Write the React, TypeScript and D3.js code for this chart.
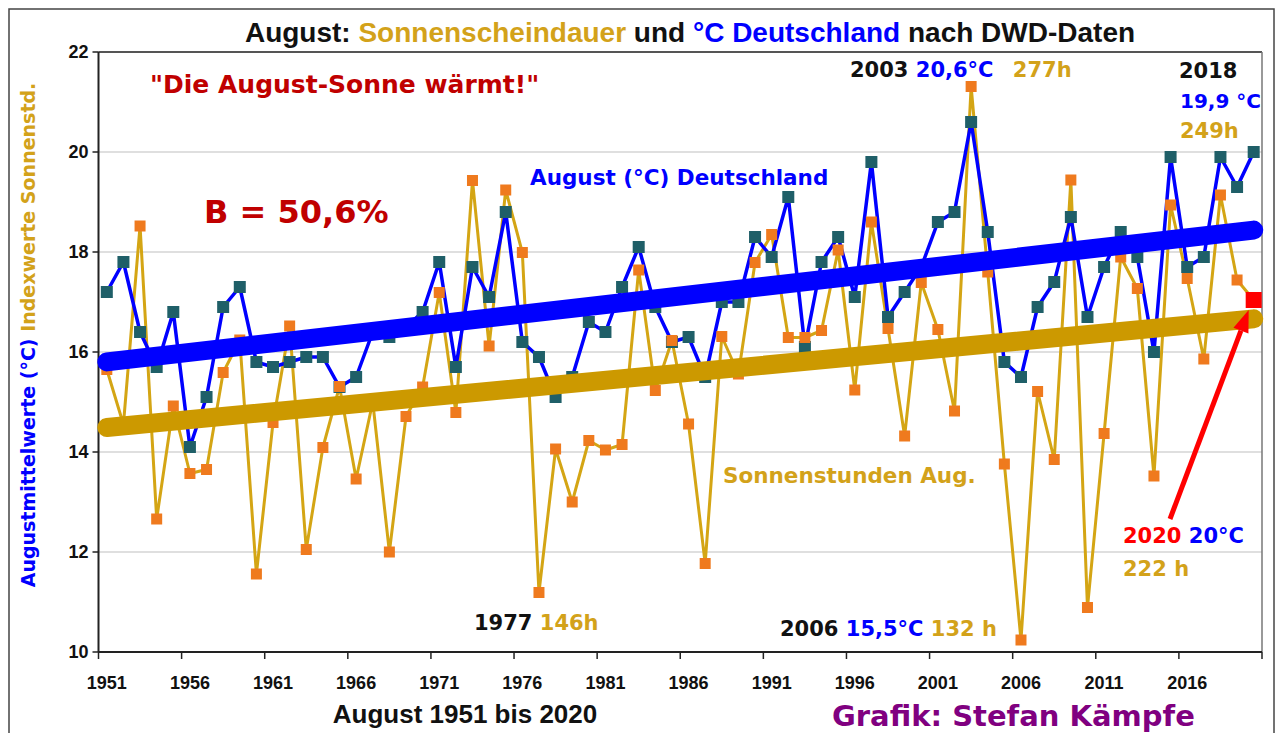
import React from 'react';
import * as d3 from 'd3';

// Kategorien
const firstYear = 1951;
const lastYear = 2020;
const years = d3.range(firstYear, lastYear + 1);

// August-Mittel (°C) Deutschland
const tempAugust = [
  17.2, 17.8, 16.4, 15.7, 16.8, 14.1, 15.1, 16.9, 17.3, 15.8,
  15.7, 15.8, 15.9, 15.9, 15.3, 15.5, 16.4, 16.3, 16.5, 16.8,
  17.8, 15.7, 17.7, 17.1, 18.8, 16.2, 15.9, 15.1, 15.5, 16.6,
  16.4, 17.3, 18.1, 16.9, 16.2, 16.3, 15.5, 17.0, 17.0, 18.3,
  17.9, 19.1, 16.1, 17.8, 18.3, 17.1, 19.8, 16.7, 17.2, 17.7,
  18.6, 18.8, 20.6, 18.4, 15.8, 15.5, 16.9, 17.4, 18.7, 16.7,
  17.7, 18.4, 17.9, 16.0, 19.9, 17.7, 17.9, 19.9, 19.3, 20.0,
];

// Indexwerte Sonnenstunden (auf die °C-Achse skaliert)
const sunIndex = [
  15.65, 14.55, 18.52, 12.66, 14.92, 13.57, 13.65, 15.59, 16.24, 11.56,
  14.59, 16.52, 12.05, 14.09, 15.31, 13.46, 15.0, 12.0, 14.71, 15.3,
  17.19, 14.79, 19.43, 16.12, 19.24, 17.99, 11.19, 14.06, 13.0, 14.23,
  14.04, 14.15, 17.64, 15.23, 16.23, 14.56, 11.77, 16.31, 15.56, 17.79,
  18.35, 16.29, 16.29, 16.43, 18.04, 15.24, 18.6, 16.47, 14.32, 17.39,
  16.45, 14.82, 21.31, 17.6, 13.76, 10.24, 15.21, 13.85, 19.44, 10.89,
  14.37, 17.9, 17.27, 13.52, 18.94, 17.47, 15.86, 19.14, 17.44, 17.04,
];

const yTicks = [10, 12, 14, 16, 18, 20, 22];
const labelYears = [1951, 1956, 1961, 1966, 1971, 1976, 1981, 1986, 1991, 1996, 2001, 2006, 2011, 2016];

const W = 1283;
const H = 733;
const plot = { left: 98.5, right: 1262, top: 52, bottom: 652 };

const font = "'Liberation Sans', Arial, Helvetica, sans-serif";
const fontNarrow = "'Liberation Sans Narrow', 'Arial Narrow', 'Liberation Sans', Arial, sans-serif";
const fontWide = "'DejaVu Sans', Verdana, sans-serif";
const BLUE = '#0000FF';
const GOLD = '#D4A514';
const GOLD_TREND = '#CC9900';
const GOLD_TEXT = '#D3A21A';
const TEAL = '#1F5F68';
const ORANGE = '#EF7A1E';
const DARKRED = '#C00000';

// einfache lineare Regression
function linReg(xs: number[], ys: number[]) {
  const mx = d3.mean(xs)!;
  const my = d3.mean(ys)!;
  let num = 0, den = 0;
  xs.forEach((xv, i) => { num += (xv - mx) * (ys[i] - my); den += (xv - mx) ** 2; });
  const b = num / den;
  return (xv: number) => my + b * (xv - mx);
}

export default function App() {
  const x = d3.scaleBand<number>().domain(years).range([plot.left, plot.right]).padding(0);
  const xc = (yr: number) => (x(yr) as number) + x.bandwidth() / 2;
  const y = d3.scaleLinear().domain([10, 22]).range([plot.bottom, plot.top]);

  const line = d3.line<number>().x((_, i) => xc(years[i])).y(d => y(d));
  const tempTrend = linReg(years, tempAugust);
  const sunTrend = linReg(years, sunIndex);

  const sunPts = sunIndex.slice(0, -1);
  const last = years.length - 1;

  const tb = { fontFamily: font, fontWeight: 700 } as const;
  const tn = { fontFamily: fontNarrow, fontWeight: 700 } as const;
  const tw = { fontFamily: fontWide, fontWeight: 700 } as const;

  // Pfeil auf 2020
  const ax0 = 1170, ay0 = 519;
  const ax1 = xc(lastYear) - 5, ay1 = y(sunIndex[last]) + 10;
  const ang = Math.atan2(ay1 - ay0, ax1 - ax0);
  const headLen = 22, headW = 8;
  const hx = ax1 - headLen * Math.cos(ang), hy = ay1 - headLen * Math.sin(ang);
  const px = -Math.sin(ang) * headW, py = Math.cos(ang) * headW;

  return (
    <svg width={W} height={H} style={{ position: 'absolute', left: 0, top: 0, background: '#fff' }}>
      <rect x={0} y={0} width={W} height={H} fill="#fff" />
      <rect x={9} y={9} width={1265} height={740} fill="none" stroke="#444" strokeWidth={1.5} />

      {/* Gitter */}
      {yTicks.filter(t => t > 10 && t < 22).map(t => (
        <line key={t} x1={plot.left} x2={plot.right} y1={y(t)} y2={y(t)} stroke="#d4d4d4" strokeWidth={1.5} />
      ))}

      {/* Rahmen Plotfläche */}
      <line x1={plot.left} x2={plot.right} y1={plot.top} y2={plot.top} stroke="#555" strokeWidth={2} />
      <line x1={plot.right} x2={plot.right} y1={plot.top} y2={plot.bottom} stroke="#777" strokeWidth={1.5} />

      {/* Achsen */}
      <line x1={plot.left} x2={plot.left} y1={plot.top} y2={plot.bottom} stroke="#222" strokeWidth={2} />
      <line x1={plot.left} x2={plot.right} y1={plot.bottom} y2={plot.bottom} stroke="#222" strokeWidth={2} />
      {yTicks.map(t => (
        <g key={t}>
          <line x1={plot.left - 6} x2={plot.left} y1={y(t)} y2={y(t)} stroke="#222" strokeWidth={1.5} />
          <text x={plot.left - 10} y={y(t)} dy="0.35em" textAnchor="end" fontSize={18} style={tn} fill="#111">{t}</text>
        </g>
      ))}
      {labelYears.map(yr => (
        <g key={yr}>
          <line x1={x(yr)} x2={x(yr)} y1={plot.bottom} y2={plot.bottom + 7} stroke="#222" strokeWidth={1.5} />
          <text x={xc(yr)} y={plot.bottom + 37} textAnchor="middle" fontSize={18} style={tn} fill="#111">{yr}</text>
        </g>
      ))}
      <line x1={plot.right} x2={plot.right} y1={plot.bottom} y2={plot.bottom + 7} stroke="#222" strokeWidth={1.5} />

      {/* Datenlinien */}
      <path d={line(sunIndex) || ''} fill="none" stroke={GOLD} strokeWidth={3} strokeLinejoin="round" />
      <path d={line(tempAugust) || ''} fill="none" stroke={BLUE} strokeWidth={3.5} strokeLinejoin="round" />
      {tempAugust.map((v, i) => (
        <rect key={'t' + i} x={xc(years[i]) - 6} y={y(v) - 6} width={12} height={12} fill={TEAL} />
      ))}
      {sunPts.map((v, i) => (
        <rect key={'s' + i} x={xc(years[i]) - 5.5} y={y(v) - 5.5} width={11} height={11} fill={ORANGE} />
      ))}

      {/* Trendlinien */}
      <line x1={xc(firstYear)} y1={y(tempTrend(firstYear))} x2={xc(lastYear)} y2={y(tempTrend(lastYear))}
        stroke={BLUE} strokeWidth={19} strokeLinecap="round" />
      <line x1={xc(firstYear)} y1={y(sunTrend(firstYear))} x2={xc(lastYear)} y2={y(sunTrend(lastYear))}
        stroke={GOLD_TREND} strokeWidth={19} strokeLinecap="round" />

      {/* 2020 */}
      <rect x={xc(lastYear) - 8} y={y(sunIndex[last]) - 8} width={16} height={16} fill="#FF0000" />
      <line x1={ax0} y1={ay0} x2={hx} y2={hy} stroke="#FF0000" strokeWidth={5} />
      <polygon points={`${ax1},${ay1} ${hx + px},${hy + py} ${hx - px},${hy - py}`} fill="#FF0000" />

      {/* Titel */}
      <text x={690} y={42} textAnchor="middle" fontSize={28} style={tb}>
        <tspan fill="#111">August: </tspan>
        <tspan fill={GOLD_TEXT}>Sonnenscheindauer</tspan>
        <tspan fill="#111"> und </tspan>
        <tspan fill={BLUE}>°C Deutschland</tspan>
        <tspan fill="#111"> nach DWD-Daten</tspan>
      </text>

      {/* Y-Achsentitel */}
      <text transform="translate(35,335) rotate(-90)" textAnchor="middle" fontSize={19} style={tw}>
        <tspan fill={BLUE}>Augustmittelwerte (°C) </tspan>
        <tspan fill={GOLD_TEXT}>Indexwerte Sonnenstd.</tspan>
      </text>

      {/* Beschriftungen */}
      <text x={150} y={93} fontSize={25} style={tw} fill={DARKRED}>"Die August-Sonne wärmt!"</text>
      <text x={204} y={223} fontSize={32} style={tw} fill={DARKRED}>B = 50,6%</text>
      <text x={530} y={185} fontSize={21.5} style={tw} fill={BLUE}>August (°C) Deutschland</text>
      <text x={723} y={483} fontSize={21.5} style={tw} fill={GOLD_TEXT}>Sonnenstunden Aug.</text>

      <text x={850} y={77} fontSize={21} style={tw}>
        <tspan fill="#111">2003 </tspan>
        <tspan fill={BLUE}>20,6°C </tspan>
        <tspan fill={GOLD_TEXT} dx={12}>277h</tspan>
      </text>
      <text x={1179} y={78} fontSize={21} style={tw} fill="#111">2018</text>
      <text x={1180} y={108} fontSize={20} style={tw} fill={BLUE}>19,9 °C</text>
      <text x={1180} y={138} fontSize={21} style={tw} fill={GOLD_TEXT}>249h</text>

      <text x={474} y={630} fontSize={21} style={tw}>
        <tspan fill="#111">1977 </tspan>
        <tspan fill={GOLD_TEXT}>146h</tspan>
      </text>
      <text x={780} y={636} fontSize={21} style={tw}>
        <tspan fill="#111">2006 </tspan>
        <tspan fill={BLUE}>15,5°C </tspan>
        <tspan fill={GOLD_TEXT}>132 h</tspan>
      </text>
      <text x={1123} y={543} fontSize={21} style={tw}>
        <tspan fill="#FF0000">2020 </tspan>
        <tspan fill={BLUE}>20°C</tspan>
      </text>
      <text x={1123} y={576} fontSize={21} style={tw} fill={GOLD_TEXT}>222 h</text>

      {/* Fußzeile */}
      <text x={465} y={723} textAnchor="middle" fontSize={26} style={tb} fill="#111">August 1951 bis 2020</text>
      <text x={832} y={726} fontSize={29} style={tw} fill="#800080">Grafik: Stefan Kämpfe</text>
    </svg>
  );
}
